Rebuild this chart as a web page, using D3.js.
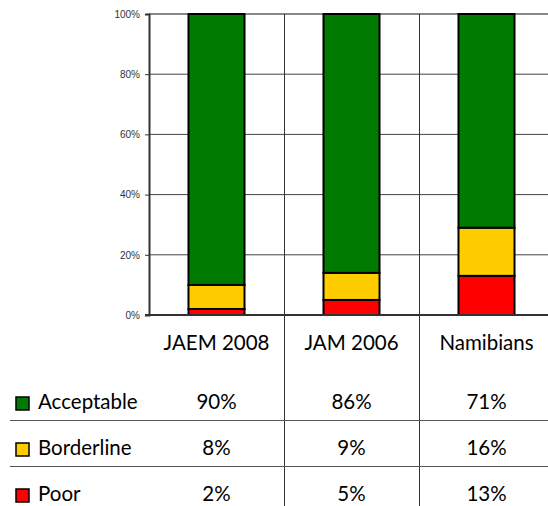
<!DOCTYPE html>
<html>
<head>
<meta charset="utf-8">
<script src="https://cdn.jsdelivr.net/npm/d3@7/dist/d3.min.js"></script>
<style>
  html, body { margin: 0; padding: 0; background: #fff; }
  svg { display: block; }
</style>
</head>
<body>
<svg id="chart" width="548" height="506"></svg>
<script>
// Survey groups and the share of samples rated in each quality class (%)
const categories = ["JAEM 2008", "JAM 2006", "Namibians"];
const seriesNames = ["Acceptable", "Borderline", "Poor"];
const acceptable = [90, 86, 71];
const borderline = [8, 9, 16];
const poor = [2, 5, 13];
const yTicks = [0, 20, 40, 60, 80, 100];

const colors = { Acceptable: "#007a00", Borderline: "#ffcc00", Poor: "#ff0000" };
const valuesBySeries = { Acceptable: acceptable, Borderline: borderline, Poor: poor };

const rows = categories.map((c, i) => ({
  category: c,
  Poor: poor[i],
  Borderline: borderline[i],
  Acceptable: acceptable[i]
}));

const svg = d3.select("#chart");
const plot = { left: 149, right: 554, top: 14, bottom: 315 };

const x = d3.scaleBand().domain(categories).range([plot.left, plot.right]).padding(0);
const y = d3.scaleLinear().domain([0, 100]).range([plot.bottom, plot.top]);
const barWidth = x.bandwidth() * 0.415;

// horizontal gridlines
svg.append("g")
  .selectAll("line")
  .data(yTicks.filter(t => t > 0 && t < 100))
  .join("line")
  .attr("x1", plot.left).attr("x2", 548)
  .attr("y1", d => y(d)).attr("y2", d => y(d))
  .attr("stroke", "#444").attr("stroke-width", 1);

// top border of the plot
svg.append("line")
  .attr("x1", plot.left).attr("x2", 548)
  .attr("y1", y(100)).attr("y2", y(100))
  .attr("stroke", "#888").attr("stroke-width", 2);

// column separators running through the plot and the data table
svg.append("g")
  .selectAll("line")
  .data(categories.slice(1))
  .join("line")
  .attr("x1", d => Math.round(x(d)) + 0.5).attr("x2", d => Math.round(x(d)) + 0.5)
  .attr("y1", plot.top).attr("y2", 506)
  .attr("stroke", "#333").attr("stroke-width", 1);

// stacked bars
const stack = d3.stack().keys(["Poor", "Borderline", "Acceptable"]);
const layers = stack(rows);

svg.append("g")
  .selectAll("g")
  .data(layers)
  .join("g")
  .attr("fill", d => colors[d.key])
  .selectAll("rect")
  .data(d => d)
  .join("rect")
  .attr("x", d => x(d.data.category) + (x.bandwidth() - barWidth) / 2)
  .attr("width", barWidth)
  .attr("y", d => y(d[1]))
  .attr("height", d => y(d[0]) - y(d[1]))
  .attr("stroke", "#000")
  .attr("stroke-width", 2);

// y axis
const yAxis = d3.axisLeft(y)
  .tickValues(yTicks)
  .tickFormat(d => d + "%")
  .tickSize(4)
  .tickPadding(5);

const yg = svg.append("g")
  .attr("transform", `translate(${plot.left},0)`)
  .call(yAxis);
yg.select(".domain").attr("stroke", "#333").attr("stroke-width", 2);
yg.selectAll(".tick line").attr("stroke", "#333");
yg.selectAll(".tick text")
  .attr("fill", "#333")
  .style("font-family", "'Liberation Sans', Arial, sans-serif")
  .style("font-size", "10px");

// baseline
svg.append("line")
  .attr("x1", plot.left - 4).attr("x2", 548)
  .attr("y1", y(0)).attr("y2", y(0))
  .attr("stroke", "#333").attr("stroke-width", 2);

// data table below the plot
const tableFont = "Lato, 'Open Sans', sans-serif";
const tableSize = "20.5px";
const rowY = { Acceptable: 409, Borderline: 455, Poor: 501 };

svg.append("g")
  .selectAll("text")
  .data(categories)
  .join("text")
  .attr("x", d => x(d) + x.bandwidth() / 2)
  .attr("y", 350)
  .attr("text-anchor", "middle")
  .style("font-family", tableFont)
  .style("font-size", tableSize)
  .attr("fill", "#000")
  .text(d => d);

// row separators
svg.append("g")
  .selectAll("line")
  .data([420, 466])
  .join("line")
  .attr("x1", 10).attr("x2", 548)
  .attr("y1", d => d + 0.5).attr("y2", d => d + 0.5)
  .attr("stroke", "#555").attr("stroke-width", 1);

const legendRows = svg.append("g")
  .selectAll("g")
  .data(seriesNames)
  .join("g");

legendRows.append("rect")
  .attr("x", 16).attr("y", d => rowY[d] - 12)
  .attr("width", 13).attr("height", 13)
  .attr("fill", d => colors[d])
  .attr("stroke", "#000").attr("stroke-width", 1.5);

legendRows.append("text")
  .attr("x", 38).attr("y", d => rowY[d])
  .style("font-family", tableFont)
  .style("font-size", tableSize)
  .attr("fill", "#000")
  .text(d => d);

legendRows.selectAll("text.val")
  .data(s => valuesBySeries[s].map((v, i) => ({ s, v, c: categories[i] })))
  .join("text")
  .attr("class", "val")
  .attr("x", d => x(d.c) + x.bandwidth() / 2)
  .attr("y", d => rowY[d.s])
  .attr("text-anchor", "middle")
  .style("font-family", tableFont)
  .style("font-size", tableSize)
  .attr("fill", "#000")
  .text(d => d.v + "%");
</script>
</body>
</html>
